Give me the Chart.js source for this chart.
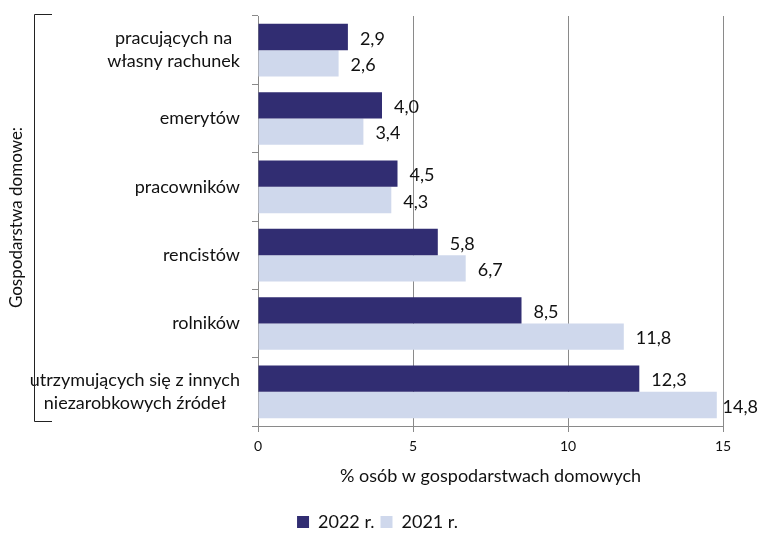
<!DOCTYPE html>
<html>
<head>
<meta charset="utf-8">
<script src="https://cdn.jsdelivr.net/npm/chart.js@4"></script>
<style>
  html, body { margin: 0; padding: 0; background: #fff; }
  #wrap { width: 759px; height: 534px; position: relative; }
</style>
</head>
<body>
<div id="wrap"><canvas id="chart"></canvas></div>
<script>
/* ── DATA ─────────────────────────────────────────── */
const categories = [
  ["pracujących na", "własny rachunek"],
  ["emerytów"],
  ["pracowników"],
  ["rencistów"],
  ["rolników"],
  ["utrzymujących się z innych", "niezarobkowych źródeł"]
];
const values2022 = [2.9, 4.0, 4.5, 5.8, 8.5, 12.3];
const values2021 = [2.6, 3.4, 4.3, 6.7, 11.8, 14.8];
const seriesLabels = ["2022 r.", "2021 r."];
const xTicks = [0, 5, 10, 15];
const axisTitle = "% osób w gospodarstwach domowych";
const groupTitle = "Gospodarstwa domowe:";

const FONT = "Lato, 'Open Sans', sans-serif";
const DARK = "#312d72";
const LIGHT = "#cfd8ec";
const GRID = "#8a8a8a";

/* ── PLUGINS ──────────────────────────────────────── */
// value labels at bar ends, with decimal comma
const valueLabels = {
  id: "valueLabels",
  afterDatasetsDraw(chart) {
    const ctx = chart.ctx;
    ctx.save();
    ctx.font = "18px " + FONT;
    ctx.fillStyle = "#111";
    ctx.textBaseline = "middle";
    ctx.textAlign = "left";
    chart.data.datasets.forEach((ds, i) => {
      chart.getDatasetMeta(i).data.forEach((bar, j) => {
        const txt = ds.data[j].toFixed(1).replace(".", ",");
        const w = ctx.measureText(txt).width;
        const x = Math.min(bar.x + 12, chart.width - w - 1);
        ctx.fillText(txt, x, bar.y + 2);
      });
    });
    ctx.restore();
  }
};

// category labels, lines centred inside a right-aligned block
const catLabels = {
  id: "catLabels",
  afterLayout(chart) {
    // centre the legend on the whole picture, not on the padded box
    const l = chart.legend;
    if (l) { l.left += 16; l.right += 16; }
  },
  afterDraw(chart) {
    const ctx = chart.ctx;
    const y = chart.scales.y;
    const right = 240;
    const lh = 23;
    ctx.save();
    ctx.font = "18px " + FONT;
    ctx.fillStyle = "#111";
    ctx.textBaseline = "middle";
    ctx.textAlign = "center";
    categories.forEach((lines, i) => {
      const w = Math.max(...lines.map(l => ctx.measureText(l).width));
      const cx = right - w / 2;
      const cy = y.getPixelForValue(i);
      lines.forEach((l, k) => {
        ctx.fillText(l, cx, cy + (k - (lines.length - 1) / 2) * lh);
      });
    });

    // bracket + group title
    const top = chart.chartArea.top - 2;
    const bot = chart.chartArea.bottom - 5;
    ctx.strokeStyle = "#222";
    ctx.lineWidth = 1;
    ctx.beginPath();
    ctx.moveTo(52, top + 0.5);
    ctx.lineTo(34.5, top + 0.5);
    ctx.lineTo(34.5, bot + 0.5);
    ctx.lineTo(52, bot + 0.5);
    ctx.stroke();

    ctx.translate(17, (top + bot) / 2);
    ctx.rotate(-Math.PI / 2);
    ctx.font = "17px " + FONT;
    ctx.fillText(groupTitle, 0, 0);
    ctx.restore();
  }
};

/* ── CHART ────────────────────────────────────────── */
new Chart(document.getElementById("chart"), {
  type: "bar",
  data: {
    labels: categories,
    datasets: [
      { label: seriesLabels[0], data: values2022, backgroundColor: DARK },
      { label: seriesLabels[1], data: values2021, backgroundColor: LIGHT }
    ]
  },
  options: {
    indexAxis: "y",
    responsive: true,
    maintainAspectRatio: false,
    animation: false,
    categoryPercentage: 0.77,
    barPercentage: 1.0,
    layout: { padding: { top: 16, right: 36, bottom: -7, left: 0 } },
    plugins: {
      legend: {
        position: "bottom",
        labels: {
          color: "#111",
          font: { family: FONT, size: 18 },
          boxWidth: 12, boxHeight: 12,
          padding: 6
        }
      },
      tooltip: { enabled: false }
    },
    scales: {
      x: {
        min: 0, max: 15,
        afterBuildTicks: s => { s.ticks = xTicks.map(v => ({ value: v })); },
        afterFit: s => { s.height = 81; },
        ticks: { color: "#111", font: { family: FONT, size: 14 }, padding: 6 },
        grid: {
          color: GRID, lineWidth: 1, tickLength: 6,
          drawTicks: true
        },
        border: { display: true, color: GRID },
        title: {
          display: true, text: axisTitle, color: "#111",
          font: { family: FONT, size: 18 }, padding: { top: 4, bottom: 20 }
        }
      },
      y: {
        afterFit: s => { s.width = 258; },
        ticks: { display: false },
        grid: {
          offset: true, drawOnChartArea: false,
          color: GRID, tickLength: 6
        },
        border: { display: true, color: GRID }
      }
    }
  },
  plugins: [valueLabels, catLabels]
});
</script>
</body>
</html>
